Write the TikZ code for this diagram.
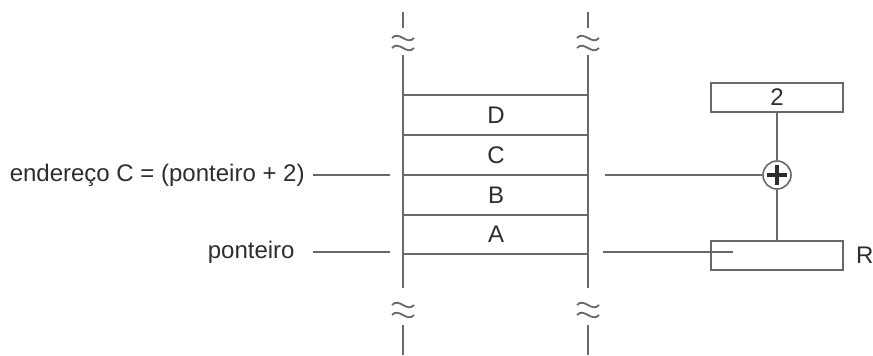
\documentclass[tikz,border=0pt]{standalone}
\usepackage{fontspec}
\setmainfont{Liberation Sans}
\usetikzlibrary{positioning}
\definecolor{linegray}{RGB}{105,105,105}
\definecolor{textgray}{RGB}{45,45,45}
\newcommand\railbreak[2]{%
  \draw[wire] (#1-11,#2-4) .. controls (#1-4,#2-12) and (#1+4,#2+4) .. (#1+11,#2-4);
  \draw[wire] (#1-11,#2+6) .. controls (#1-4,#2-2) and (#1+4,#2+14) .. (#1+11,#2+6);}
\tikzset{
  wire/.style={draw=linegray, line width=0.9pt},
  lbl/.style={font=\fontsize{12}{14}\selectfont, text=textgray, inner sep=0pt},
  regbox/.style={draw=linegray, line width=0.8pt, minimum width=66pt, minimum height=14.5pt, inner sep=0pt, lbl},
  adder/.style={circle, draw=linegray, line width=0.8pt, minimum size=14pt, inner sep=0pt},
}
\begin{document}
\begin{tikzpicture}[x=0.5pt,y=-0.5pt]
    \useasboundingbox (0,0) rectangle (873,355);
    % memoria
    \foreach \x in {403,588} {
      \draw[wire] (\x,12) -- (\x,28);
      \draw[wire] (\x,55) -- (\x,288);
      \draw[wire] (\x,325) -- (\x,355);
      \railbreak{\x}{42}
      \railbreak{\x}{309}
    }
    \foreach \y in {95,135,175,215,254} \draw[wire] (403,\y) -- (588,\y);
    \foreach \l/\y in {D/115,C/155,B/195,A/234} \node[lbl] (cell\l) at (496,\y) {\l};
    % rotulos
    \node[lbl, anchor=east] (addr) at (305,175) {endereço C = (ponteiro + 2)};
    \node[lbl, anchor=east] (ptr) at (295,252) {ponteiro};
    \draw[wire] ([xshift=4pt]addr.east) -- ([xshift=-6.5pt]403,175);
    \draw[wire] ([xshift=9pt]ptr.east) -- ([xshift=-6.5pt]403,252);
    % somador
    \node[regbox] (two) at (777,97.5) {2};
    \node[adder] (sum) at (777,175) {};
    \draw[line width=1.6pt, textgray] ([xshift=-5pt]sum.center) -- ([xshift=5pt]sum.center);
    \draw[line width=1.6pt, textgray] ([yshift=-5pt]sum.center) -- ([yshift=5pt]sum.center);
    \node[regbox] (reg) at (777,255.5) {};
    \node[lbl, right=6pt of reg] (regname) {R};
    \draw[wire] (two.south) -- (sum.north);
    \draw[wire] (sum.south) -- (reg.north);
    \draw[wire] ([xshift=8.5pt]588,175) -- (sum.west);
    \draw[wire] ([xshift=7.5pt]588,252) -- (733,252);
\end{tikzpicture}
\end{document}
